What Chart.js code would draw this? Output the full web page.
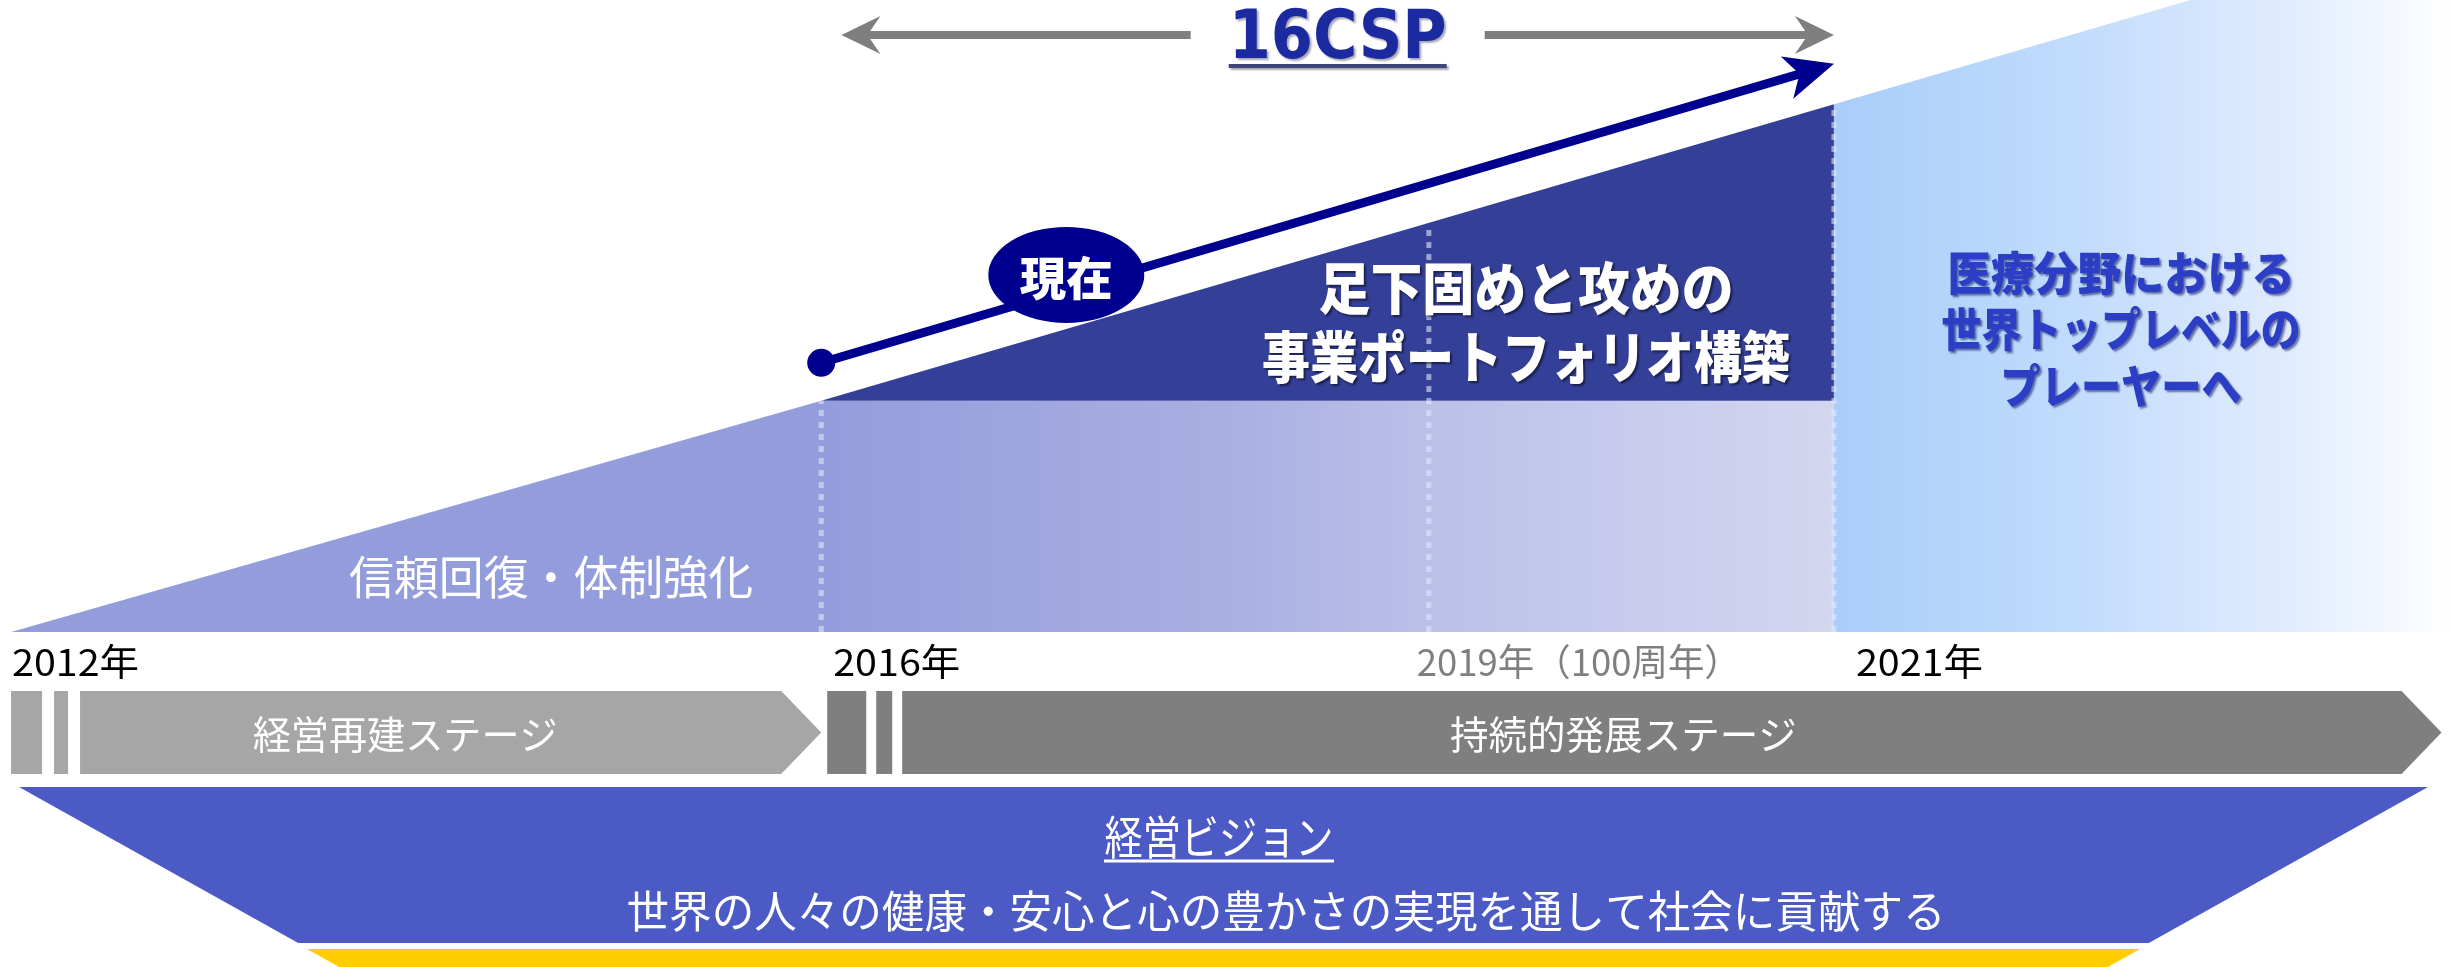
<!DOCTYPE html>
<html><head><meta charset="utf-8">
<script src="https://cdn.jsdelivr.net/npm/chart.js@4.4.1/dist/chart.umd.min.js"></script>
<style>html,body{margin:0;padding:0;background:#fff;overflow:hidden}#wrap{position:relative;width:2453px;height:967px}</style>
</head><body><div id="wrap"><canvas id="c"></canvas></div>
<script>
// ---------------- data (years on x, "level" of the rising wedge on y) ----------------
const milestoneYears  = [2012, 2016, 2019, 2021];
const milestoneLabels = ['2012年', '2016年', '2019年（100周年）', '2021年'];
const edgeYears  = [2012, 2016, 2021];          // rising edge of the wedge
const edgeLevels = [0, 36.6, 83.5];
const dashTopLevels = [36.6, 64, 83.5];         // tops of dotted guides at 2016, 2019, 2021
const futureYears  = [2021, 2021, 2022.76, 2024.06];
const futureLevels = [0, 83.5, 100, 100];
const growthYears  = [2016, 2020.83];           // navy "growth" arrow shaft
const growthLevels = [42.6, 88.3];
const nowYear = 2017.21, nowLevel = 56.5;
const planName  = '16CSP';
const planYears = [2016.1, 2021];
const stageNames = ['経営再建ステージ', '持続的発展ステージ'];
const stageStart = [2012, 2016];
const stageEnd   = [2016, 2024];
const phaseTexts = [['信頼回復・体制強化'], ['足下固めと攻めの', '事業ポートフォリオ構築'], ['医療分野における', '世界トップレベルの', 'プレーヤーへ']];
const visionTitle = '経営ビジョン';
const visionText  = '世界の人々の健康・安心と心の豊かさの実現を通して社会に貢献する';

// ---------------- styles ----------------
const NAVY = '#00008F';
const JP = '"Noto Sans CJK JP","Noto Sans CJK SC",sans-serif';

function fitText(c, text, x, y, font, width, align) {
  c.font = font;
  const w = c.measureText(text).width;
  c.save();
  c.translate(x, y);
  c.scale(width / w, 1);
  c.textAlign = align || 'center';
  c.fillText(text, 0, 0);
  c.restore();
}
function arrowHead(c, tx, ty, dx, dy, len, half, notch, color) {
  const nx = -dy, ny = dx;
  const bx = tx - len * dx, by = ty - len * dy;
  c.fillStyle = color;
  c.beginPath();
  c.moveTo(tx, ty);
  c.lineTo(bx + half * nx, by + half * ny);
  c.lineTo(tx - notch * dx, ty - notch * dy);
  c.lineTo(bx - half * nx, by - half * ny);
  c.closePath();
  c.fill();
}

const GROWTH = 6;
const diagram = {
  id: 'diagram',
  afterDatasetsDraw(chart) {
    const c = chart.ctx, xs = chart.scales.x, ys = chart.scales.y, ca = chart.chartArea;
    const X = v => xs.getPixelForValue(v), Y = v => ys.getPixelForValue(v);
    c.save();

    // growth arrow head
    const gm = chart.getDatasetMeta(GROWTH);
    const a = gm.data[0], b = gm.data[gm.data.length - 1];
    let dx = b.x - a.x, dy = b.y - a.y; const L = Math.hypot(dx, dy); dx /= L; dy /= L;
    arrowHead(c, b.x + 36 * dx, b.y + 36 * dy, dx, dy, 49, 22, 36, NAVY);

    // "現在" badge
    c.fillStyle = NAVY;
    c.beginPath(); c.ellipse(X(nowYear), Y(nowLevel), 78, 48, 0, 0, Math.PI * 2); c.fill();
    c.fillStyle = '#fff'; c.textBaseline = 'middle';
    fitText(c, '現在', X(nowYear), Y(nowLevel) + 3, '900 46px ' + JP, 93);

    // header: 16CSP with arrows
    const yA = Y(94.46), xL = X(planYears[0]), xR = X(planYears[1]), xc = (xL + xR) / 2;
    c.fillStyle = '#7F7F7F';
    c.fillRect(xL + 24, yA - 4, (xc - 147) - (xL + 24), 8);
    c.fillRect(xc + 147, yA - 4, (xR - 24) - (xc + 147), 8);
    arrowHead(c, xL, yA, -1, 0, 39, 19, 26, '#7F7F7F');
    arrowHead(c, xR, yA, 1, 0, 39, 19, 26, '#7F7F7F');
    const yT = Y(90.82);
    const gr = c.createLinearGradient(0, yT - 50, 0, yT);
    gr.addColorStop(0, '#1C2AA0'); gr.addColorStop(0.5, '#2E42C8'); gr.addColorStop(1, '#4258E0');
    c.save();
    c.shadowColor = 'rgba(0,0,40,0.35)'; c.shadowOffsetX = 2; c.shadowOffsetY = 2; c.shadowBlur = 2;
    c.fillStyle = gr; c.textBaseline = 'alphabetic';
    fitText(c, planName, xc, yT, 'bold 67px "DejaVu Sans",Verdana,sans-serif', 218);
    c.fillStyle = '#3D4478';
    c.fillRect(xc - 109, Y(89.56) - 2, 218, 4);
    c.restore();

    // phase texts
    c.textBaseline = 'middle';
    c.fillStyle = '#fff';
    fitText(c, phaseTexts[0][0], X(2014.666), Y(8.71), '46px ' + JP, 404);
    c.save();
    c.shadowColor = 'rgba(0,0,0,0.5)'; c.shadowOffsetX = 2; c.shadowOffsetY = 2; c.shadowBlur = 2;
    fitText(c, phaseTexts[1][0], X(2019.48), Y(54.43), '900 56px ' + JP, 415);
    fitText(c, phaseTexts[1][1], X(2019.48), Y(43.52), '900 56px ' + JP, 528);
    c.shadowColor = 'rgba(10,20,90,0.55)';
    c.fillStyle = '#2C3EC6';
    fitText(c, phaseTexts[2][0], X(2022.418), Y(56.81), '900 46px ' + JP, 347);
    fitText(c, phaseTexts[2][1], X(2022.418), Y(47.95), '900 46px ' + JP, 359);
    fitText(c, phaseTexts[2][2], X(2022.418), Y(38.93), '900 46px ' + JP, 241);
    c.restore();

    // year labels
    const nudge = [1, 12, -12, 22], widths = [127, 127, 324, 127];
    c.textBaseline = 'alphabetic';
    milestoneYears.forEach((yr, i) => {
      c.fillStyle = i === 2 ? '#7F7F7F' : '#000';
      fitText(c, milestoneLabels[i], X(yr) + nudge[i], Y(-6.96), '37px ' + JP, widths[i], 'left');
    });

    // stage arrows
    const sTop = Y(-9.33), sBot = Y(-22.46), sMid = (sTop + sBot) / 2;
    const pat = [{cuts: [[0, 31], [43, 57]], body: 69, pad: 0, color: '#A6A6A6', w: 305},
                 {cuts: [[0, 39], [49, 65]], body: 75, pad: 6, color: '#7F7F7F', w: 347}];
    stageNames.forEach((nm, i) => {
      const p = pat[i], x0 = X(stageStart[i]) + p.pad, xt = X(stageEnd[i]);
      c.fillStyle = p.color;
      p.cuts.forEach(([u, v]) => c.fillRect(x0 + u, sTop, v - u, sBot - sTop));
      c.beginPath();
      c.moveTo(x0 + p.body, sTop); c.lineTo(xt - 40, sTop); c.lineTo(xt, sMid);
      c.lineTo(xt - 40, sBot); c.lineTo(x0 + p.body, sBot); c.closePath(); c.fill();
      c.fillStyle = '#fff'; c.textBaseline = 'middle';
      fitText(c, nm, (x0 + xt) / 2 - 11, sMid + 2, '39px ' + JP, p.w);
    });

    // vision band
    const vT = Y(-24.52), vB = Y(-49.2), k = 1.79;
    c.fillStyle = '#4B5AC4';
    c.beginPath();
    c.moveTo(ca.left + 19, vT); c.lineTo(ca.right - 25, vT);
    c.lineTo(ca.right - 25 - (vB - vT) * k, vB); c.lineTo(ca.left + 19 + (vB - vT) * k, vB);
    c.closePath(); c.fill();
    const yY = Y(-50.15), yE = ca.bottom + 4;
    c.fillStyle = '#FFCC00';
    c.beginPath();
    c.moveTo(ca.left + 307, yY); c.lineTo(ca.right - 313, yY);
    c.lineTo(ca.right - 313 - (yE - yY) * k, yE); c.lineTo(ca.left + 307 + (yE - yY) * k, yE);
    c.closePath(); c.fill();
    c.fillStyle = '#fff'; c.textBaseline = 'middle';
    fitText(c, visionTitle, X(2017.964), Y(-32.43), '46px ' + JP, 229);
    c.fillRect(X(2017.964) - 115, Y(-36.23) - 1.5, 230, 3);
    fitText(c, visionText, X(2018.295), Y(-44.14), '44px ' + JP, 1319);

    c.restore();
  }
};

const ctx = document.getElementById('c');
new Chart(ctx, {
  type: 'line',
  data: {
    datasets: [
      { // 0: trust recovery wedge (light purple, fades to the right)
        data: [{x: edgeYears[0], y: edgeLevels[0]}, {x: edgeYears[1], y: edgeLevels[1]}, {x: edgeYears[2], y: edgeLevels[1]}],
        fill: 'origin', borderWidth: 0, borderColor: 'rgba(0,0,0,0)', pointRadius: 0, order: 10,
        backgroundColor: (cx) => {
          const ch = cx.chart; if (!ch.chartArea) return '#949DDC';
          const xs = ch.scales.x;
          const g = ch.ctx.createLinearGradient(xs.getPixelForValue(edgeYears[1]), 0, xs.getPixelForValue(edgeYears[2]), 0);
          g.addColorStop(0, '#949DDC'); g.addColorStop(0.4, '#A9AFE2'); g.addColorStop(0.6, '#BBC0E8'); g.addColorStop(1, '#D4D6F0');
          return g;
        }
      },
      { // 1: 16CSP wedge (navy)
        data: [{x: edgeYears[1], y: edgeLevels[1]}, {x: edgeYears[2], y: edgeLevels[2]}],
        fill: {value: edgeLevels[1]}, borderWidth: 0, borderColor: 'rgba(0,0,0,0)', pointRadius: 0, order: 9,
        backgroundColor: '#343F98'
      },
      { // 2: future wedge (light blue, fades to white)
        data: futureYears.map((x, i) => ({x, y: futureLevels[i]})),
        fill: 'origin', borderWidth: 0, borderColor: 'rgba(0,0,0,0)', pointRadius: 0, order: 8,
        backgroundColor: (cx) => {
          const ch = cx.chart; if (!ch.chartArea) return '#A9CDFA';
          const xs = ch.scales.x;
          const g = ch.ctx.createLinearGradient(xs.getPixelForValue(futureYears[0]), 0, ch.chartArea.right, 0);
          g.addColorStop(0, '#A9CDFA'); g.addColorStop(0.4, '#C2DCFC'); g.addColorStop(0.75, '#E2EDFE'); g.addColorStop(1, '#FFFFFF');
          return g;
        }
      },
      ...milestoneYears.slice(1).map((yr, i) => ({ // 3-5: dotted guides
        data: [{x: yr, y: 0}, {x: yr, y: dashTopLevels[i]}],
        fill: false, borderColor: 'rgba(228,232,252,0.6)', borderWidth: 5, borderDash: [6, 6],
        borderCapStyle: 'butt', pointRadius: 0, order: 5
      })),
      { // 6: growth arrow
        data: growthYears.map((x, i) => ({x, y: growthLevels[i]})),
        fill: false, borderColor: NAVY, borderWidth: 9, borderCapStyle: 'butt',
        pointRadius: [14, 0], pointBackgroundColor: NAVY, pointBorderWidth: 0, order: 1
      }
    ]
  },
  options: {
    responsive: true, maintainAspectRatio: false, animation: false, events: [],
    layout: {padding: 0, autoPadding: false},
    plugins: {legend: {display: false}, tooltip: {enabled: false}},
    elements: {line: {tension: 0}},
    scales: {
      x: {type: 'linear', min: 2011.9454, max: 2024.0566, display: false},
      y: {type: 'linear', min: -53, max: 100, display: false}
    }
  },
  plugins: [diagram]
});
</script>
</body></html>
